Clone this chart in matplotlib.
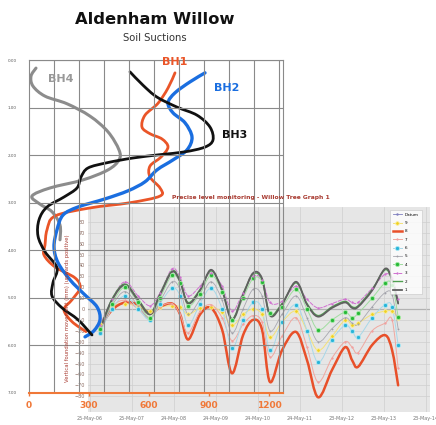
import numpy as np
import matplotlib
matplotlib.use('Agg')
import matplotlib.pyplot as plt
import matplotlib.dates as mdates
from matplotlib.path import Path
from matplotlib.patches import PathPatch
from matplotlib.lines import Line2D
import pandas as pd

# ---- soil suction profiles (suction kPa vs depth m) ----
bh1_kpa = [730, 695, 645, 580, 565, 605, 665, 695, 660, 605, 605, 655, 655, 505, 305, 130,
           90, 80, 75, 130, 230, 255, 215, 175, 215, 285]
bh1_depth = [0.27, 0.59, 0.91, 1.16, 1.41, 1.55, 1.66, 1.83, 2.04, 2.23, 2.46, 2.69, 2.86, 3.00,
             3.11, 3.28, 3.57, 3.89, 4.10, 4.35, 4.58, 4.79, 5.04, 5.25, 5.50, 5.71]

bh2_kpa = [880, 805, 730, 695, 720, 780, 815, 790, 720, 640, 580, 495, 380, 245, 170, 140,
           125, 145, 205, 275, 340, 355, 325, 280]
bh2_depth = [0.27, 0.46, 0.69, 0.90, 1.11, 1.32, 1.62, 1.89, 2.10, 2.31, 2.56, 2.75, 2.92, 3.09,
             3.26, 3.57, 3.93, 4.26, 4.62, 4.92, 5.19, 5.46, 5.69, 5.82]

bh3_kpa = [505, 570, 640, 740, 840, 905, 920, 880, 780, 655, 520, 390, 295, 260, 240, 175,
           90, 50, 45, 80, 140, 120, 115, 165, 245, 315]
bh3_depth = [0.25, 0.53, 0.78, 0.99, 1.16, 1.41, 1.68, 1.83, 1.93, 1.99, 2.06, 2.16, 2.27, 2.46,
             2.69, 2.88, 3.09, 3.36, 3.70, 4.03, 4.37, 4.68, 4.96, 5.21, 5.46, 5.78]

bh4_kpa = [35, 10, 20, 80, 190, 305, 395, 450, 450, 395, 270, 105, 15, 55, 115, 155, 155]
bh4_depth = [0.17, 0.34, 0.55, 0.76, 0.92, 1.18, 1.51, 1.89, 2.10, 2.31, 2.52, 2.69, 2.86, 3.03,
             3.19, 3.47, 3.78]

suction_ticks = [0, 300, 600, 900, 1200]
depth_ticks = [0, 1, 2, 3, 4, 5, 6, 7]

# ---- precise level monitoring (mm, upwards positive) ----
dates = ['2006-08-20', '2006-12-02', '2007-03-25', '2007-07-17', '2007-10-30', '2008-01-24',
         '2008-05-08', '2008-07-17', '2008-09-24', '2009-01-06', '2009-04-12', '2009-07-17',
         '2009-10-11', '2010-01-15', '2010-04-12', '2010-06-29', '2010-09-06', '2010-12-19',
         '2011-04-20', '2011-07-25', '2011-10-29', '2012-02-27', '2012-06-20', '2012-08-20',
         '2012-10-11', '2013-02-10', '2013-06-03', '2013-08-03', '2013-09-24']

s9 = [-14, 2, 5, 2, -2, 2, 3, 2, -5, 1, 2, -3, -15, -5, 0, -5, -26, -12, -2, -20, -38, -25,
      -10, -15, -13, -5, -2, -2, -8]
s8 = [-17, -1, 6, 4, -4, 2, 5, -5, -28, -5, 1, -19, -59, -24, -10, -19, -67, -38, -21, -47,
      -81, -56, -35, -47, -53, -33, -24, -38, -70]
s7 = [-18, 2, 8, 0, -8, 2, 5, -5, -22, -2, 4, -8, -29, -14, -6, -12, -44, -25, -8, -35, -67,
      -45, -30, -35, -40, -20, -13, -10, -54]
s6 = [-22, 0, 12, 0, -10, 5, 19, 12, -15, 5, 19, 0, -36, -10, 6, 0, -38, -12, 4, -20, -49,
      -28, -15, -20, -26, -8, 4, 2, -33]
s5 = [-20, 3, 16, 3, -9, 7, 25, 18, -5, 9, 25, 8, -22, 0, 18, 12, -20, -5, 12, -8, -30, -18,
      -8, -13, -14, 2, 15, 13, -18]
s4 = [-18, 5, 20, 6, -8, 10, 31, 24, 3, 14, 31, 16, -10, 10, 28, 25, -4, 2, 18, 0, -19, -10,
      -3, -8, -4, 10, 24, 22, -7]
s3 = [-15, 9, 25, 12, 3, 15, 37, 29, 12, 21, 33, 21, -2, 15, 30, 27, 6, 7, 21, 9, 1, 5, 9, 6,
      6, 19, 32, 28, 9]
s2 = [-18, 9, 23, 9, -4, 14, 35, 26, 6, 18, 35, 18, -9, 14, 32, 27, -5, 5, 24, 5, -6, 2, 7, 2,
      3, 18, 36, 26, 6]
s1 = [-19, 8, 22, 8, -5, 13, 34, 25, 5, 17, 36, 17, -10, 13, 33, 28, -6, 4, 25, 4, -7, 1, 6,
      1, 2, 17, 37, 27, 5]

date_ticks = ['2006-05-25', '2007-05-25', '2008-05-24', '2009-05-24', '2010-05-24',
              '2011-05-24', '2012-05-23', '2013-05-23', '2014-05-23']

W, H = 436, 425
fig = plt.figure(figsize=(W / 100, H / 100), dpi=100)


def box(x0, y0, x1, y1):
    # pixel box -> figure fraction rect
    return [x0 / W, 1 - y1 / H, (x1 - x0) / W, (y1 - y0) / H]


def smooth(ax, xs, ys, **kw):
    # smoothed line through the points (like excel "smoothed line"), bezier segments
    p = np.column_stack([np.asarray(xs, float), np.asarray(ys, float)])
    verts = [p[0]]
    codes = [Path.MOVETO]
    n = len(p)
    for i in range(n - 1):
        p0 = p[i - 1] if i > 0 else p[i]
        p3 = p[i + 2] if i + 2 < n else p[i + 1]
        verts += [p[i] + (p[i + 1] - p0) / 6, p[i + 1] - (p3 - p[i]) / 6, p[i + 1]]
        codes += [Path.CURVE4] * 3
    patch = PathPatch(Path(verts, codes), fill=False, capstyle='round', joinstyle='round', **kw)
    ax.add_patch(patch)
    return patch


fig.text(155 / W, 1 - 19 / H, 'Aldenham Willow', fontsize=11.8, fontweight='bold',
         ha='center', va='center', color='#111111')
fig.text(155 / W, 1 - 38 / H, 'Soil Suctions', fontsize=7.2, ha='center', va='center',
         color='#333333')

# ---- monitoring graph (underneath) ----
ax2 = fig.add_axes(box(88, 207, 430, 412))
ax2.set_facecolor('#e6e6e6')
t = mdates.date2num(pd.to_datetime(dates))

ax2.axhline(0, color='#707070', lw=0.8, zorder=1)

series = [
    # label, values, line colour, lw, ls, marker, marker face, marker edge, ms
    ('9', s9, '#f3e27a', 0.7, '-', 'o', '#f0d020', '#faf0a0', 2.6),
    ('8', s8, '#e8502a', 1.8, '-', None, None, None, 0),
    ('7', s7, '#f0a8a0', 0.7, '-', '.', '#f0a0a0', '#f0a0a0', 2),
    ('6', s6, '#a8d8e8', 0.7, '-', 'o', '#28b4d8', '#b0e8f4', 3),
    ('5', s5, '#a8a8b0', 0.6, '-', '.', '#a0a0a8', '#a0a0a8', 1.5),
    ('4', s4, '#a0dca0', 0.7, '-', 'o', '#28b838', '#a8eca8', 3),
    ('3', s3, '#d070d0', 0.7, '--', '.', '#d070d0', '#d070d0', 2),
    ('2', s2, '#50a050', 1.0, '-', None, None, None, 0),
    ('1', s1, '#606060', 1.3, '-', None, None, None, 0),
]
handles = [Line2D([], [], color='#8080c0', lw=0.6, marker='.', ms=1.5)]
labels = ['Datum']
for lab, vals, c, lw, ls, mk, mf, me, ms in series:
    smooth(ax2, t, vals, edgecolor=c, lw=lw, linestyle=ls, zorder=2)
    if mk:
        ax2.plot(t, vals, ls='none', marker=mk, ms=ms, mfc=mf, mec=me, mew=0.6, zorder=3)
    handles.append(Line2D([], [], color=c, lw=lw, ls=ls, marker=mk, ms=ms, mfc=mf, mec=me,
                          mew=0.6))
    labels.append(lab)

ax2.set_xlim(mdates.date2num(pd.Timestamp('2006-05-08')),
             mdates.date2num(pd.Timestamp('2014-06-28')))
ax2.set_ylim(-94.5, 93.6)
ax2.set_xticks(mdates.date2num(pd.to_datetime(date_ticks)))
ax2.xaxis.set_major_formatter(mdates.DateFormatter('%d-%b-%y'))
ax2.set_yticks(range(-80, 81, 10))
ax2.tick_params(axis='x', labelsize=3.5, colors='#777777', length=0, pad=3)
ax2.tick_params(axis='y', labelsize=3.5, colors='#8a6a60', length=0, pad=2)
ax2.grid(True, color='#cfcfcf', lw=0.5)
for s in ax2.spines.values():
    s.set_visible(False)

fig.text(251 / W, 1 - 197 / H, 'Precise level monitoring - Willow Tree Graph 1',
         fontsize=4.3, fontweight='bold', color='#a83a30', ha='center', va='center')
fig.text(67 / W, 1 - 308 / H, 'Vertical foundation movement (mm) (upwards positive)',
         fontsize=3.8, color='#a83a30', rotation=90, ha='center', va='center')

leg = ax2.legend(handles, labels, loc='upper left', bbox_to_anchor=(388 / W, 1 - 208 / H),
                 bbox_transform=fig.transFigure, fontsize=3, frameon=True, fancybox=False,
                 edgecolor='#bbbbbb', labelspacing=1.05, handlelength=2.2, borderpad=0.6)
leg.get_frame().set_linewidth(0.4)
leg.set_zorder(5)

# ---- soil suction chart (on top, transparent) ----
ax1 = fig.add_axes(box(29, 60, 283, 393))
ax1.set_facecolor('none')
ax1.set_zorder(3)

smooth(ax1, bh4_kpa, bh4_depth, edgecolor='#8c8c8c', lw=2.2)
smooth(ax1, bh1_kpa, bh1_depth, edgecolor='#ea5528', lw=2.0)
smooth(ax1, bh2_kpa, bh2_depth, edgecolor='#1a6ee0', lw=2.4)
smooth(ax1, bh3_kpa, bh3_depth, edgecolor='#111111', lw=2.0)

ax1.text(730, 0.04, 'BH1', color='#ea5528', fontsize=8, fontweight='bold', ha='center', va='center')
ax1.text(990, 0.59, 'BH2', color='#1a6ee0', fontsize=8, fontweight='bold', ha='center', va='center')
ax1.text(1030, 1.58, 'BH3', color='#111111', fontsize=8, fontweight='bold', ha='center', va='center')
ax1.text(160, 0.40, 'BH4', color='#999999', fontsize=8, fontweight='bold', ha='center', va='center')

ax1.set_xlim(0, 1270)
ax1.set_ylim(7, 0)
ax1.set_xticks(suction_ticks)
ax1.set_xticks([i * 125 for i in range(11)], minor=True)
ax1.set_yticks(depth_ticks)
ax1.set_yticklabels(['%.2f' % d for d in depth_ticks])
ax1.grid(True, which='minor', axis='x', color='#8a8a8a', lw=0.8)
ax1.grid(True, which='major', axis='y', color='#8a8a8a', lw=0.8)
ax1.tick_params(axis='x', which='major', colors='#f07838', labelsize=6.5, length=2.5, width=1,
                pad=3)
ax1.tick_params(axis='x', which='minor', length=0)
for lab in ax1.get_xticklabels():
    lab.set_fontweight('bold')
ax1.tick_params(axis='y', labelsize=3, colors='#555555', length=0, pad=9)
for s in ['top', 'right', 'left']:
    ax1.spines[s].set_color('#8a8a8a')
    ax1.spines[s].set_linewidth(0.8)
ax1.spines['bottom'].set_color('#f07838')
ax1.spines['bottom'].set_linewidth(1.5)

fig.savefig('out.png', dpi=100)
